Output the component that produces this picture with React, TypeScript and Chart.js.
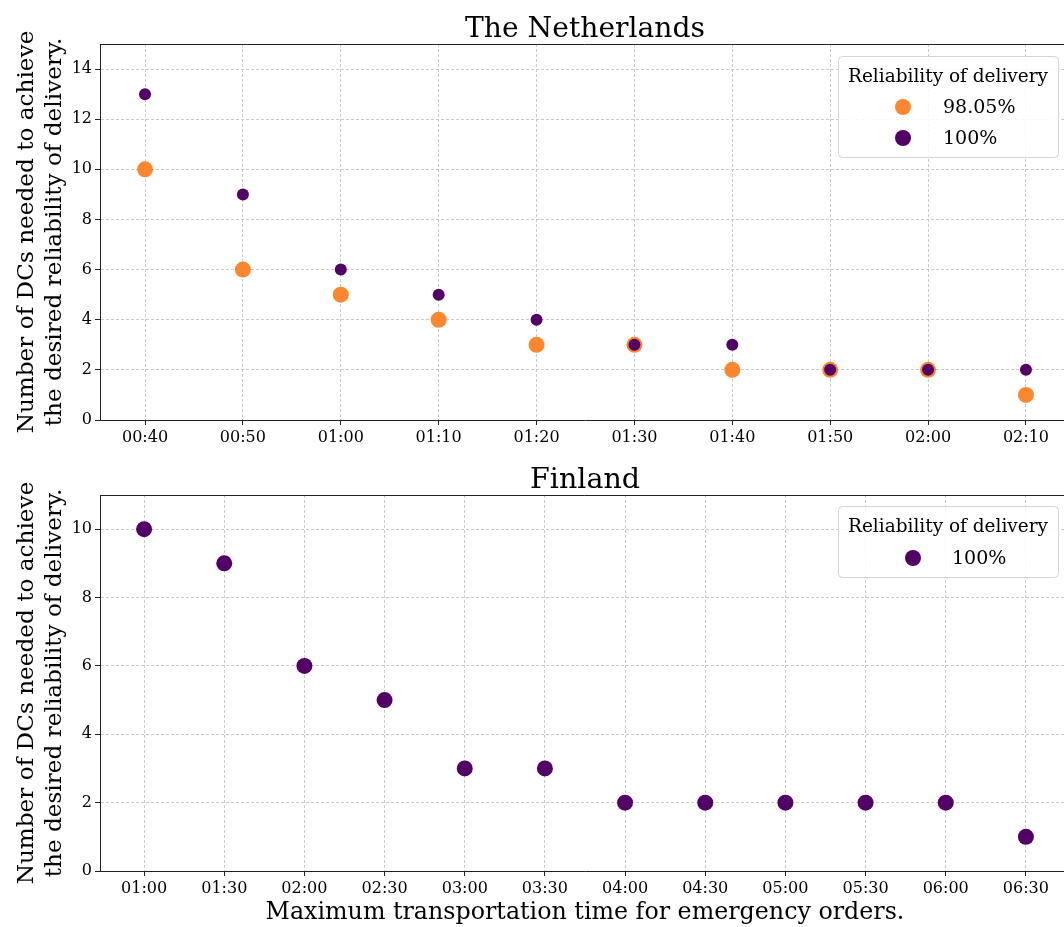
import React, { useEffect, useRef } from 'react';
import { Chart, registerables } from 'chart.js';

Chart.register(...registerables);

// ---------- data ----------
const nlLabels = ['00:40', '00:50', '01:00', '01:10', '01:20', '01:30', '01:40', '01:50', '02:00', '02:10'];
const nl9805 = [10, 6, 5, 4, 3, 3, 2, 2, 2, 1];
const nl100 = [13, 9, 6, 5, 4, 3, 3, 2, 2, 2];
const nlYTicks = [0, 2, 4, 6, 8, 10, 12, 14];

const fiLabels = ['01:00', '01:30', '02:00', '02:30', '03:00', '03:30', '04:00', '04:30', '05:00', '05:30', '06:00', '06:30'];
const fi100 = [10, 9, 6, 5, 3, 3, 2, 2, 2, 2, 2, 1];
const fiYTicks = [0, 2, 4, 6, 8, 10];

const seriesNames = ['98.05%', '100%'];
const legendTitle = 'Reliability of delivery';
const yLabelLines = ['Number of DCs needed to achieve', 'the desired reliability of delivery.'];
const xLabelText = 'Maximum transportation time for emergency orders.';

// ---------- style ----------
const FONT = '"DejaVu Serif", serif';
const ORANGE = '#fd872e';
const PURPLE = '#530066';
const CANVAS_W = 1080;
const PLOT_RIGHT = 1070;

function fitSize(ctx: CanvasRenderingContext2D, text: string, width: number) {
  ctx.font = `100px ${FONT}`;
  const w = ctx.measureText(text).width;
  return (100 * width) / w;
}

const decorPlugin = {
  id: 'decor',
  afterDraw(chart: any, _args: any, opts: any) {
    const { ctx, chartArea } = chart;
    const { left, right, top, bottom } = chartArea;
    ctx.save();
    ctx.setLineDash([]);
    // top and right spines
    ctx.strokeStyle = '#222';
    ctx.lineWidth = 1;
    ctx.beginPath();
    ctx.moveTo(left, top + 0.5);
    ctx.lineTo(right - 0.5, top + 0.5);
    ctx.lineTo(right - 0.5, bottom);
    ctx.stroke();

    ctx.fillStyle = '#000';
    const cx = (left + right) / 2;
    // title
    let size = fitSize(ctx, opts.title, opts.titleWidth);
    ctx.font = `${size}px ${FONT}`;
    ctx.textAlign = 'center';
    ctx.textBaseline = 'alphabetic';
    ctx.fillText(opts.title, cx, opts.titleBaseline);

    // y label
    size = fitSize(ctx, yLabelLines[0], opts.yLabelWidth);
    ctx.save();
    ctx.translate(opts.yLabelX, (top + bottom) / 2);
    ctx.rotate(-Math.PI / 2);
    ctx.font = `${size}px ${FONT}`;
    yLabelLines.forEach((line, i) => ctx.fillText(line, 0, i * opts.yLabelGap));
    ctx.restore();

    // x label
    if (opts.xLabel) {
      size = fitSize(ctx, opts.xLabel, opts.xLabelWidth);
      ctx.font = `${size}px ${FONT}`;
      ctx.fillText(opts.xLabel, cx, opts.xLabelBaseline);
    }

    // legend
    const lg = opts.legend;
    ctx.beginPath();
    const r = 4;
    const x0 = lg.x + 0.5, y0 = lg.y + 0.5, w = lg.w, h = lg.h;
    ctx.moveTo(x0 + r, y0);
    ctx.lineTo(x0 + w - r, y0);
    ctx.arcTo(x0 + w, y0, x0 + w, y0 + r, r);
    ctx.lineTo(x0 + w, y0 + h - r);
    ctx.arcTo(x0 + w, y0 + h, x0 + w - r, y0 + h, r);
    ctx.lineTo(x0 + r, y0 + h);
    ctx.arcTo(x0, y0 + h, x0, y0 + h - r, r);
    ctx.lineTo(x0, y0 + r);
    ctx.arcTo(x0, y0, x0 + r, y0, r);
    ctx.closePath();
    ctx.fillStyle = 'rgba(255,255,255,0.85)';
    ctx.fill();
    ctx.strokeStyle = '#d4d4d4';
    ctx.stroke();

    ctx.fillStyle = '#000';
    size = fitSize(ctx, legendTitle, lg.titleWidth);
    ctx.font = `${size}px ${FONT}`;
    ctx.textAlign = 'center';
    ctx.fillText(legendTitle, lg.titleX, lg.titleBaseline);

    const itemSize = lg.itemSize;
    chart.data.datasets.forEach((ds: any, i: number) => {
      const y = lg.itemY + i * lg.itemGap;
      ctx.beginPath();
      ctx.arc(lg.markerX, y, 8, 0, Math.PI * 2);
      ctx.fillStyle = ds.backgroundColor;
      ctx.fill();
      ctx.fillStyle = '#000';
      ctx.font = `${itemSize}px ${FONT}`;
      ctx.textAlign = 'left';
      ctx.fillText(ds.label, lg.textX, y + 6);
    });
    ctx.restore();
  },
};

function makeConfig(
  labels: string[],
  datasets: any[],
  yTicks: number[],
  yMax: number,
  xMin: number,
  xMax: number,
  padTop: number,
  xAxisHeight: number,
  decor: any
): any {
  const gridOpts = {
    color: '#bdbdbd',
    lineWidth: 0.8,
    tickLength: 5,
    tickColor: '#222',
    tickWidth: 1,
    tickBorderDash: [],
  };
  return {
    type: 'scatter',
    data: { datasets },
    plugins: [decorPlugin],
    options: {
      animation: false,
      responsive: false,
      events: [],
      layout: { padding: { top: padTop, left: 0, right: CANVAS_W - PLOT_RIGHT, bottom: 0 } },
      plugins: {
        legend: { display: false },
        tooltip: { enabled: false },
        title: { display: false },
        decor,
      },
      scales: {
        x: {
          type: 'linear',
          min: xMin,
          max: xMax,
          afterBuildTicks: (scale: any) => {
            scale.ticks = labels.map((_, i) => ({ value: i }));
          },
          afterFit: (scale: any) => {
            scale.height = xAxisHeight;
          },
          ticks: {
            autoSkip: false,
            maxRotation: 0,
            padding: 3,
            color: '#000',
            font: { family: FONT, size: 16 },
            callback: (v: any) => labels[v] ?? '',
          },
          grid: gridOpts,
          border: { display: true, color: '#222', width: 1, dash: [3, 2] },
        },
        y: {
          type: 'linear',
          min: 0,
          max: yMax,
          afterBuildTicks: (scale: any) => {
            scale.ticks = yTicks.map((v) => ({ value: v }));
          },
          afterFit: (scale: any) => {
            scale.width = 100;
          },
          ticks: {
            padding: 3,
            color: '#000',
            font: { family: FONT, size: 16 },
          },
          grid: gridOpts,
          border: { display: true, color: '#222', width: 1, dash: [3, 2] },
        },
      },
    },
  };
}

function Panel({ height, config }: { height: number; config: any }) {
  const ref = useRef<HTMLCanvasElement | null>(null);
  useEffect(() => {
    if (!ref.current) return;
    const chart = new Chart(ref.current, config);
    return () => chart.destroy();
  }, [config]);
  return (
    <canvas
      ref={ref}
      width={CANVAS_W}
      height={height}
      style={{ display: 'block', width: CANVAS_W, height }}
    />
  );
}

const nlConfig = makeConfig(
  nlLabels,
  [
    {
      label: seriesNames[0],
      data: nl9805.map((v, i) => ({ x: i, y: v })),
      backgroundColor: ORANGE,
      borderWidth: 0,
      pointRadius: 8,
      order: 1,
    },
    {
      label: seriesNames[1],
      data: nl100.map((v, i) => ({ x: i, y: v })),
      backgroundColor: PURPLE,
      borderWidth: 0,
      pointRadius: 6,
      order: 0,
    },
  ],
  nlYTicks,
  15,
  -0.46,
  9.45,
  44,
  32,
  {
    title: 'The Netherlands',
    titleWidth: 240,
    titleBaseline: 37,
    yLabelWidth: 403,
    yLabelX: 33,
    yLabelGap: 28,
    legend: {
      x: 838, y: 56, w: 220, h: 101,
      titleX: 948, titleWidth: 200, titleBaseline: 82,
      markerX: 903, textX: 943, itemY: 107, itemGap: 31, itemSize: 19,
    },
  }
);

const fiConfig = makeConfig(
  fiLabels,
  [
    {
      label: seriesNames[1],
      data: fi100.map((v, i) => ({ x: i, y: v })),
      backgroundColor: PURPLE,
      borderWidth: 0,
      pointRadius: 8,
    },
  ],
  fiYTicks,
  11,
  -0.55,
  11.55,
  43,
  56,
  {
    title: 'Finland',
    titleWidth: 110,
    titleBaseline: 36,
    yLabelWidth: 403,
    yLabelX: 33,
    yLabelGap: 28,
    xLabel: xLabelText,
    xLabelWidth: 639,
    xLabelBaseline: 467,
    legend: {
      x: 838, y: 54, w: 220, h: 71,
      titleX: 948, titleWidth: 200, titleBaseline: 80,
      markerX: 913, textX: 952, itemY: 106, itemGap: 31, itemSize: 19,
    },
  }
);

export default function App() {
  return (
    <div
      style={{
        position: 'absolute',
        left: 0,
        top: 0,
        width: 1064,
        height: 927,
        overflow: 'hidden',
        background: '#fff',
      }}
    >
      <Panel height={452} config={nlConfig} />
      <Panel height={475} config={fiConfig} />
    </div>
  );
}
